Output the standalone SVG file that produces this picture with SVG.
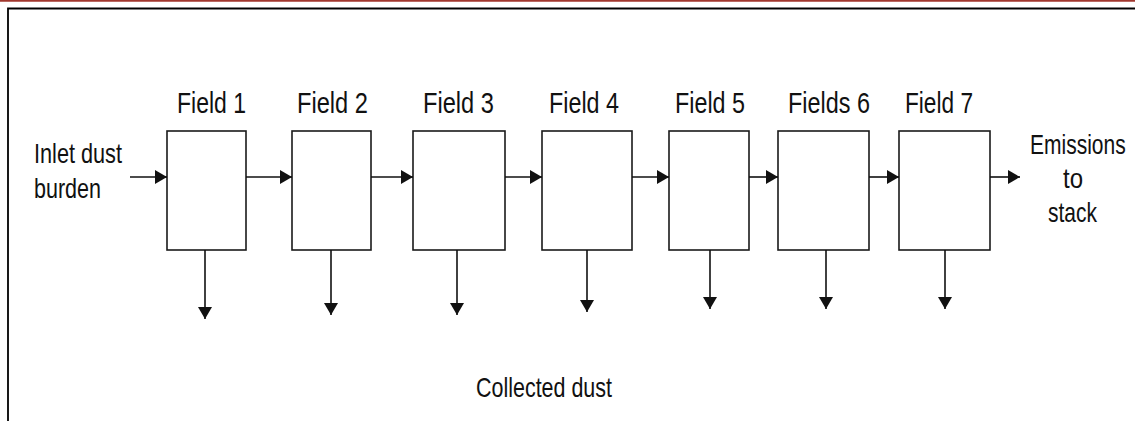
<svg xmlns="http://www.w3.org/2000/svg" width="1135" height="421" viewBox="0 0 1135 421">
  <style>
    .box { fill: #ffffff; stroke: #1a1a1a; stroke-width: 1.6; }
    .flow { stroke: #111111; stroke-width: 1.6; fill: none; }
    .lbl { font-family: "Liberation Sans", Arial, sans-serif; font-size: 28px; fill: #111111; }
    .head { font-size: 30px; }
  </style>
  <defs>
    <marker id="arrow" viewBox="0 0 12 14" refX="12" refY="7" markerWidth="12" markerHeight="14" markerUnits="userSpaceOnUse" orient="auto">
      <path d="M0,0 L12,7 L0,14 Z" fill="#111111"/>
    </marker>
  </defs>

  <!-- page background and frame -->
  <rect x="0" y="0" width="1135" height="421" fill="#ffffff"/>
  <line x1="0" y1="0.8" x2="1135" y2="0.8" stroke="#a0372e" stroke-width="1.8"/>
  <path d="M8,421 V8.5 H1135" fill="none" stroke="#000000" stroke-width="1.8"/>

  <!-- side labels -->
  <g id="inlet">
    <text class="lbl" x="34" y="163" textLength="88" lengthAdjust="spacingAndGlyphs">Inlet dust</text>
    <text class="lbl" x="34" y="198" textLength="67" lengthAdjust="spacingAndGlyphs">burden</text>
  </g>
  <g id="emissions">
    <!-- condensed horizontally so the word stays inside the page -->
    <text class="lbl" transform="translate(1030,154) scale(0.75,1)" x="0" y="0">Emissions</text>
    <text class="lbl" x="1063" y="188" textLength="20" lengthAdjust="spacingAndGlyphs">to</text>
    <text class="lbl" x="1048" y="222" textLength="49" lengthAdjust="spacingAndGlyphs">stack</text>
  </g>
  <g id="collected">
    <text class="lbl" x="476" y="397" textLength="136" lengthAdjust="spacingAndGlyphs">Collected dust</text>
  </g>

  <!-- fields -->
  <g id="field1">
    <rect class="box" x="167" y="131" width="79" height="119"/>
    <text class="lbl head" x="177" y="113" textLength="69" lengthAdjust="spacingAndGlyphs">Field 1</text>
  </g>
  <g id="field2">
    <rect class="box" x="292" y="131" width="79" height="119"/>
    <text class="lbl head" x="297" y="113" textLength="71" lengthAdjust="spacingAndGlyphs">Field 2</text>
  </g>
  <g id="field3">
    <rect class="box" x="413" y="131" width="92" height="119"/>
    <text class="lbl head" x="423" y="113" textLength="71" lengthAdjust="spacingAndGlyphs">Field 3</text>
  </g>
  <g id="field4">
    <rect class="box" x="542" y="131" width="90" height="119"/>
    <text class="lbl head" x="549" y="113" textLength="70" lengthAdjust="spacingAndGlyphs">Field 4</text>
  </g>
  <g id="field5">
    <rect class="box" x="669" y="131" width="80" height="119"/>
    <text class="lbl head" x="675" y="113" textLength="70" lengthAdjust="spacingAndGlyphs">Field 5</text>
  </g>
  <g id="field6">
    <rect class="box" x="778" y="131" width="91" height="119"/>
    <text class="lbl head" x="788" y="113" textLength="82" lengthAdjust="spacingAndGlyphs">Fields 6</text>
  </g>
  <g id="field7">
    <rect class="box" x="899" y="131" width="91" height="119"/>
    <text class="lbl head" x="905" y="113" textLength="68" lengthAdjust="spacingAndGlyphs">Field 7</text>
  </g>

  <!-- connectors -->
  <g id="connectors">
    <line class="flow" x1="130" y1="177" x2="167" y2="177" marker-end="url(#arrow)"/>
    <line class="flow" x1="246" y1="177" x2="292" y2="177" marker-end="url(#arrow)"/>
    <line class="flow" x1="371" y1="177" x2="413" y2="177" marker-end="url(#arrow)"/>
    <line class="flow" x1="505" y1="177" x2="542" y2="177" marker-end="url(#arrow)"/>
    <line class="flow" x1="632" y1="177" x2="669" y2="177" marker-end="url(#arrow)"/>
    <line class="flow" x1="749" y1="177" x2="778" y2="177" marker-end="url(#arrow)"/>
    <line class="flow" x1="869" y1="177" x2="899" y2="177" marker-end="url(#arrow)"/>
    <line class="flow" x1="990" y1="177" x2="1020" y2="177" marker-end="url(#arrow)"/>

    <line class="flow" x1="205" y1="250" x2="205" y2="319" marker-end="url(#arrow)"/>
    <line class="flow" x1="331" y1="250" x2="331" y2="315" marker-end="url(#arrow)"/>
    <line class="flow" x1="457" y1="250" x2="457" y2="315" marker-end="url(#arrow)"/>
    <line class="flow" x1="587" y1="250" x2="587" y2="312" marker-end="url(#arrow)"/>
    <line class="flow" x1="710" y1="250" x2="710" y2="309" marker-end="url(#arrow)"/>
    <line class="flow" x1="826" y1="250" x2="826" y2="309" marker-end="url(#arrow)"/>
    <line class="flow" x1="945" y1="250" x2="945" y2="309" marker-end="url(#arrow)"/>
  </g>
</svg>
